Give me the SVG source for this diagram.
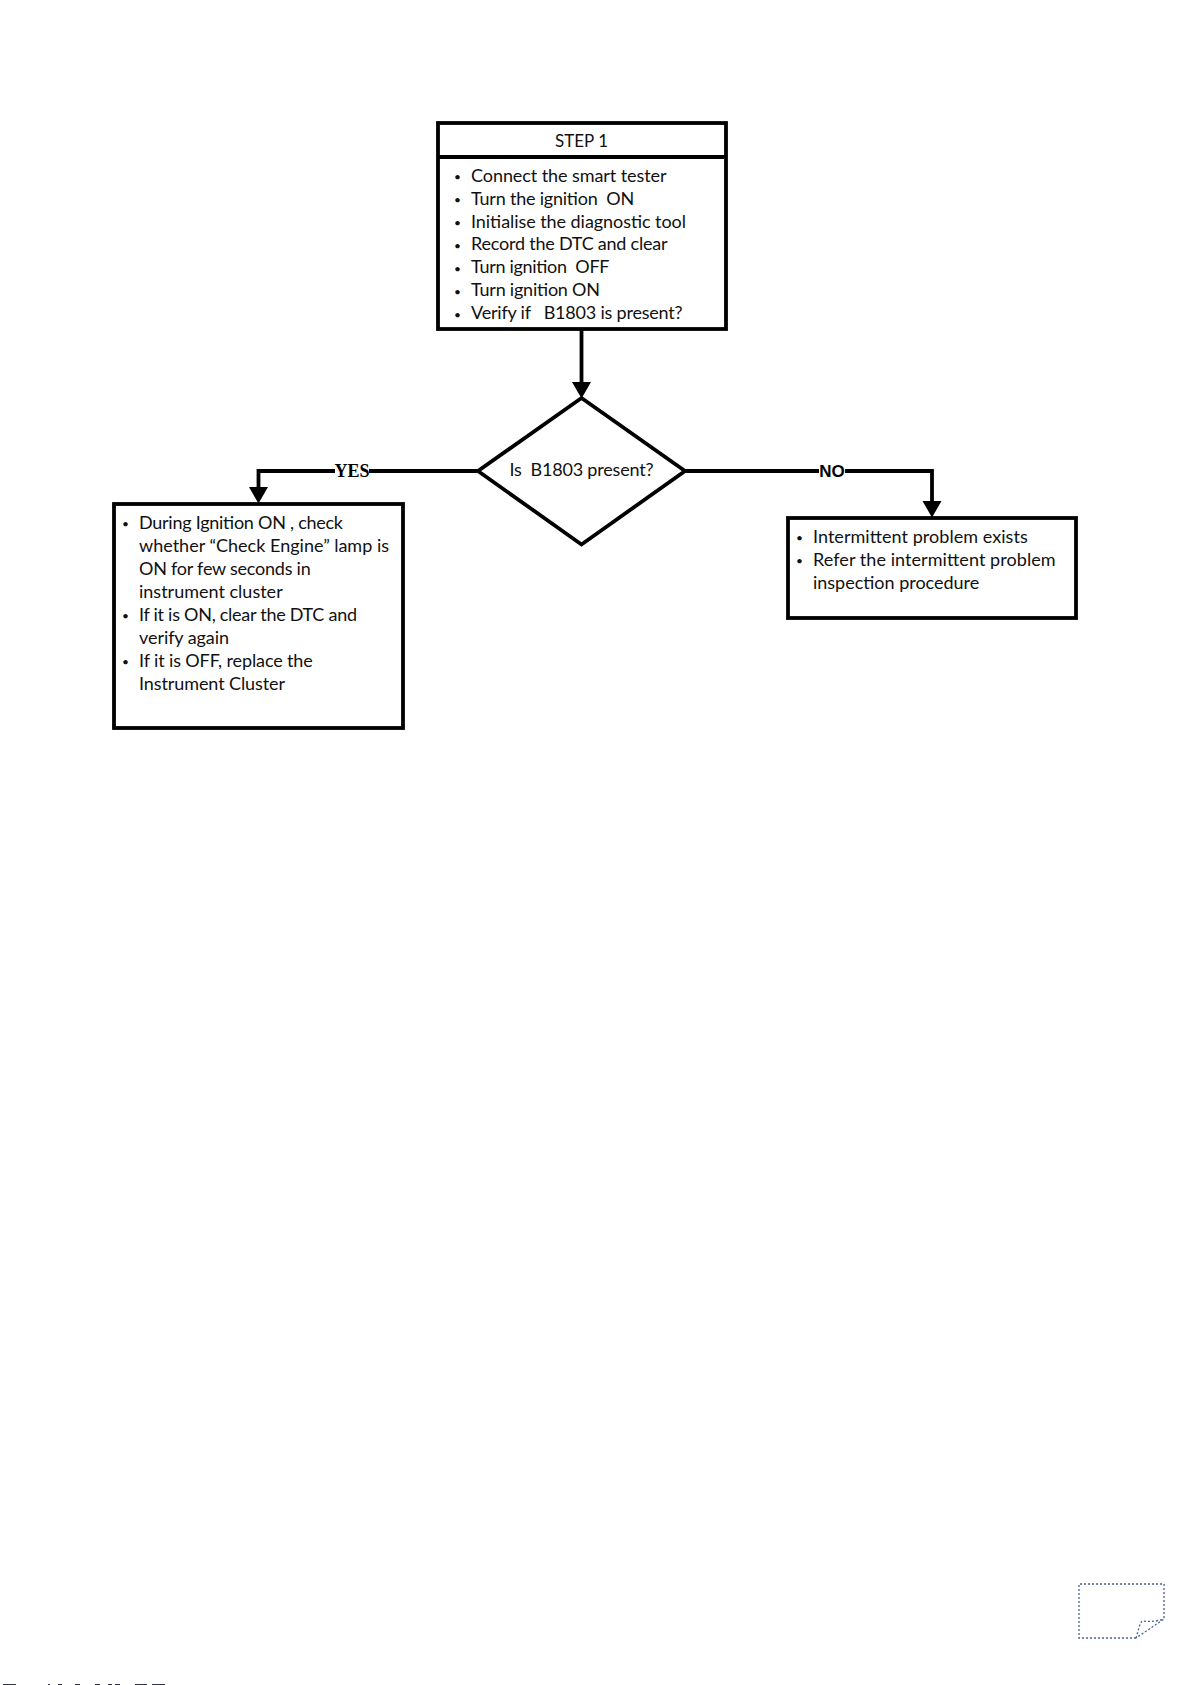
<svg xmlns="http://www.w3.org/2000/svg" width="1191" height="1685" viewBox="0 0 1191 1685">
<style>
text{font-family:"Lato","Carlito","Open Sans",sans-serif;font-size:18px;fill:#111;white-space:pre}
.box{fill:#fff;stroke:#000;stroke-width:3.8}
.con{fill:none;stroke:#000;stroke-width:3.8}
.b{font-size:12px}
.step{font-size:17px}
.yes{font-family:"Liberation Serif",serif;font-weight:bold;font-size:18px;fill:#000}
.no{font-family:"Liberation Sans",sans-serif;font-weight:bold;font-size:17px;fill:#000}
.note{fill:none;stroke:#4a5f9a;stroke-width:1.3;stroke-dasharray:2 2}
</style>
<defs>
<marker id="arrow" markerUnits="userSpaceOnUse" markerWidth="20" markerHeight="20" refX="0" refY="10" orient="auto"><path d="M0,0.5L16.5,10L0,19.5Z" fill="#000"/></marker>
</defs>
<rect width="1191" height="1685" fill="#fff"/>
<g id="connectors">
<path class="con" d="M581.5,329V382" marker-end="url(#arrow)"/>
<path class="con" d="M477,471H258.5V487" marker-end="url(#arrow)"/>
<path class="con" d="M685,471H932V501" marker-end="url(#arrow)"/>
</g>
<g id="step1">
<rect class="box" x="438" y="123" width="288" height="206"/>
<line class="con" x1="438" y1="157" x2="726" y2="157"/>
<text class="step" x="581.5" y="147" text-anchor="middle">STEP 1</text>
<g>
<text class="b" x="454" y="181">•</text><text x="471" y="182" textLength="195.5">Connect the smart tester</text>
<text class="b" x="454" y="204">•</text><text x="471" y="205" textLength="163.3">Turn the ignition  ON</text>
<text class="b" x="454" y="227">•</text><text x="471" y="228" textLength="215">Initialise the diagnostic tool</text>
<text class="b" x="454" y="250">•</text><text x="471" y="250" textLength="196.6">Record the DTC and clear</text>
<text class="b" x="454" y="273">•</text><text x="471" y="273" textLength="138.5">Turn ignition  OFF</text>
<text class="b" x="454" y="296">•</text><text x="471" y="296" textLength="129">Turn ignition ON</text>
<text class="b" x="454" y="319">•</text><text x="471" y="319" textLength="211.6">Verify if   B1803 is present?</text>
</g>
</g>
<g id="decision">
<polygon class="box" points="581.5,398 685,471 581.5,544.5 478,471"/>
<text x="509.5" y="476" textLength="144">Is  B1803 present?</text>
</g>
<g id="yes-box">
<rect class="box" x="114" y="504" width="289" height="224"/>
<text class="b" x="122" y="528">•</text><text x="139" y="529" textLength="204">During Ignition ON , check</text>
<text x="139" y="552" textLength="250">whether “Check Engine” lamp is</text>
<text x="139" y="575" textLength="171.7">ON for few seconds in</text>
<text x="139" y="598" textLength="143.7">instrument cluster</text>
<text class="b" x="122" y="620">•</text><text x="139" y="621" textLength="218">If it is ON, clear the DTC and</text>
<text x="139" y="644" textLength="90">verify again</text>
<text class="b" x="122" y="666">•</text><text x="139" y="667" textLength="173.8">If it is OFF, replace the</text>
<text x="139" y="690" textLength="146">Instrument Cluster</text>
</g>
<g id="no-box">
<rect class="box" x="788" y="518" width="288" height="100"/>
<text class="b" x="796" y="542">•</text><text x="813" y="543" textLength="214.7">Intermittent problem exists</text>
<text class="b" x="796" y="565">•</text><text x="813" y="566" textLength="242.6">Refer the intermittent problem</text>
<text x="813" y="589" textLength="166.3">inspection procedure</text>
</g>
<g id="labels">
<rect x="335" y="462" width="34" height="17" fill="#fff"/>
<text class="yes" x="352" y="477" text-anchor="middle">YES</text>
<rect x="819" y="462" width="26" height="17" fill="#fff"/>
<text class="no" x="832" y="477" text-anchor="middle">NO</text>
</g>
<g id="note">
<path class="note" d="M1136,1638H1079V1584H1164V1619L1136,1638"/>
<path class="note" d="M1136,1638C1138,1632 1139,1625 1142,1621C1150,1622 1158,1621 1164,1619"/>
</g>
<g id="page-edge" fill="#334">
<rect x="3" y="1684" width="13" height="1"/><rect x="48" y="1684" width="2" height="1"/><rect x="58" y="1684" width="4" height="1"/><rect x="75" y="1684" width="5" height="1"/><rect x="95" y="1684" width="5" height="1"/><rect x="108" y="1684" width="4" height="1"/><rect x="115" y="1684" width="5" height="1"/><rect x="135" y="1684" width="12" height="1"/><rect x="152" y="1684" width="13" height="1"/>
</g>
</svg>
